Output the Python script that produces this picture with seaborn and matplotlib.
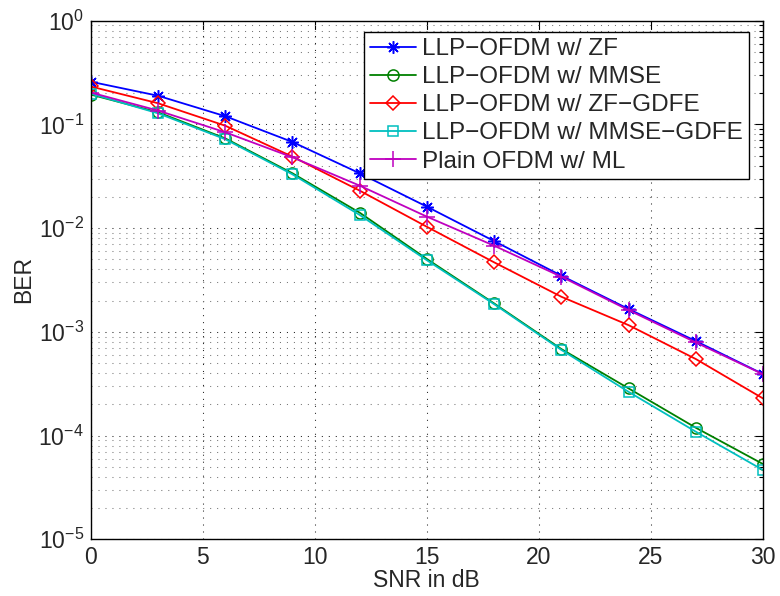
import numpy as np
import pandas as pd
import matplotlib
matplotlib.use("Agg")
import matplotlib.pyplot as plt
import seaborn as sns
from matplotlib.ticker import LogLocator, NullFormatter, MultipleLocator

snr = [0, 3, 6, 9, 12, 15, 18, 21, 24, 27, 30]
ber_zf = [0.258, 0.189, 0.120, 0.0677, 0.0338, 0.0161, 0.0075, 0.00348, 0.00166, 0.000815, 0.000392]
ber_mmse = [0.194, 0.131, 0.0734, 0.0338, 0.0141, 0.00504, 0.00188, 0.000683, 0.000285, 0.000119, 0.0000531]
ber_zfgdfe = [0.232, 0.160, 0.0972, 0.0489, 0.0230, 0.0103, 0.00468, 0.00218, 0.00116, 0.000547, 0.000228]
ber_mmsegdfe = [0.198, 0.128, 0.0720, 0.0330, 0.0134, 0.0049, 0.00185, 0.00067, 0.000264, 0.000109, 0.0000465]
ber_ml = [0.203, 0.136, 0.084, 0.0482, 0.0257, 0.0129, 0.00677, 0.0034, 0.00162, 0.00079, 0.00039]

labels = ["LLP\u2212OFDM w/ ZF", "LLP\u2212OFDM w/ MMSE", "LLP\u2212OFDM w/ ZF\u2212GDFE",
          "LLP\u2212OFDM w/ MMSE\u2212GDFE", "Plain OFDM w/ ML"]
series = [ber_zf, ber_mmse, ber_zfgdfe, ber_mmsegdfe, ber_ml]
colors = ["#0000ff", "#008000", "#ff0000", "#00bfbf", "#bf00bf"]
markers = [(8, 2, 0), "o", "D", "s", "+"]
msizes = [9, 8, 7, 7, 11]

sns.set_style("white")
plt.rcParams["font.family"] = ["Liberation Sans", "DejaVu Sans"]
plt.rcParams["mathtext.default"] = "regular"

fig = plt.figure(figsize=(7.8, 5.96), dpi=100)
ax = fig.add_axes([0.1163, 0.0952, 0.9782 - 0.1163, 0.9653 - 0.0952])

for lab, ys, c, m, ms in zip(labels, series, colors, markers, msizes):
    df = pd.DataFrame({"SNR": snr, "BER": ys})
    sns.lineplot(data=df, x="SNR", y="BER", ax=ax, color=c, marker=m,
                 markersize=ms, markerfacecolor="none", markeredgecolor=c,
                 markeredgewidth=1.1, linewidth=1.3, label=lab)

ax.set_yscale("log")
ax.set_xlim(0, 30)
ax.set_ylim(1e-5, 1)
ax.xaxis.set_major_locator(MultipleLocator(5))
ax.yaxis.set_major_locator(LogLocator(base=10, numticks=10))
ax.yaxis.set_minor_locator(LogLocator(base=10, subs=np.arange(2, 10), numticks=20))
ax.yaxis.set_minor_formatter(NullFormatter())

ax.grid(True, which="major", axis="both", linestyle=(0, (1, 5.7)), color="#222222", linewidth=0.75)
ax.grid(True, which="minor", axis="y", linestyle=(0, (1, 5.7)), color="#777777", linewidth=0.75)

ax.tick_params(which="both", direction="in", top=True, right=True, labelsize=16.5,
               color="black", width=0.8)
ax.tick_params(which="major", length=6, pad=5)
ax.tick_params(which="minor", length=3)
for s in ax.spines.values():
    s.set_color("black")
    s.set_linewidth(1.0)

ax.set_xlabel("SNR in dB", fontsize=16.5, labelpad=0)
ax.set_ylabel("BER", fontsize=16.5, labelpad=2)

leg = ax.legend(loc="upper right", bbox_to_anchor=(0.979, 0.978), fontsize=17.5,
                frameon=True, fancybox=False, edgecolor="black", framealpha=1,
                borderaxespad=0, handlelength=1.9, handletextpad=0.25,
                labelspacing=0.25, borderpad=0.25)
leg.get_frame().set_linewidth(1.0)

fig.savefig("out.png", dpi=100)
